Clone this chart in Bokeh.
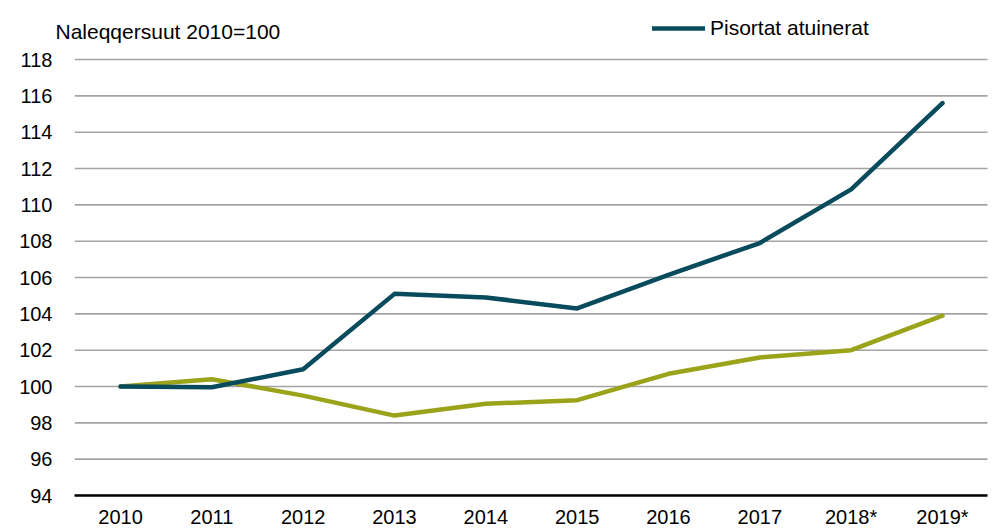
from bokeh.plotting import figure
from bokeh.models import (Range1d, FixedTicker, Legend, LegendItem,
                          Label, ColumnDataSource)
from bokeh.embed import file_html
from bokeh.resources import INLINE

# ---- data ----
years = ["2010", "2011", "2012", "2013", "2014", "2015", "2016", "2017", "2018*", "2019*"]
pisortat_atuinerat = [100.0, 99.96, 100.95, 105.1, 104.9, 104.3, 106.15, 107.9, 110.85, 115.6]
second_series = [100.0, 100.4, 99.5, 98.4, 99.05, 99.25, 100.7, 101.6, 102.0, 103.9]
y_ticks = [94, 96, 98, 100, 102, 104, 106, 108, 110, 112, 114, 116, 118]
legend_label = "Pisortat atuinerat"
title_text = "Naleqqersuut 2010=100"

TEAL = "#074b5d"
OLIVE = "#9ba31b"
GRID = "#a3a3a3"
FONT = "Liberation Sans"

pos = list(range(len(years)))          # category positions
src = ColumnDataSource(dict(x=pos, a=pisortat_atuinerat, b=second_series))

n = len(years)
p = figure(x_range=Range1d(-0.712, n - 0.507),
           y_range=Range1d(94, 121.25),
           width=992, height=530,
           output_backend="svg", toolbar_location=None,
           min_border_left=55, min_border_right=5,
           min_border_top=0, min_border_bottom=35)
p.outline_line_color = None
p.background_fill_color = "white"
p.border_fill_color = "white"
p.xgrid.visible = False
p.ygrid.visible = False

# horizontal gridlines across the category area
grid_src = ColumnDataSource(dict(y=y_ticks, x0=[-0.5] * len(y_ticks),
                                 x1=[n - 0.5] * len(y_ticks)))
p.segment(x0="x0", x1="x1", y0="y", y1="y", source=grid_src,
          line_color=GRID, line_width=1.6)

olive_r = p.line("x", "b", source=src, line_color=OLIVE, line_width=4.5,
                 line_join="round", line_cap="round")
teal_r = p.line("x", "a", source=src, line_color=TEAL, line_width=4.5,
                line_join="round", line_cap="round")

# y axis
p.yaxis.ticker = FixedTicker(ticks=y_ticks)
p.yaxis.axis_line_color = None
p.yaxis.major_tick_line_color = None
p.yaxis.minor_tick_line_color = None
p.yaxis.major_label_standoff = -3
p.yaxis.major_label_text_font = FONT
p.yaxis.major_label_text_font_size = "20px"
p.yaxis.major_label_text_color = "#000000"

# x axis
p.xaxis.ticker = FixedTicker(ticks=pos)
p.xaxis.major_label_overrides = {i: y for i, y in zip(pos, years)}
p.xaxis.bounds = (-0.5, n - 0.5)
p.xaxis.axis_line_color = "#000000"
p.xaxis.axis_line_width = 2.5
p.xaxis.major_tick_line_color = None
p.xaxis.minor_tick_line_color = None
p.xaxis.major_label_standoff = 4
p.xaxis.major_label_text_font = FONT
p.xaxis.major_label_text_font_size = "20px"
p.xaxis.major_label_text_color = "#000000"

# title-like label
p.add_layout(Label(x=0, y=464, x_units="screen", y_units="screen",
                   text=title_text, text_font=FONT, text_font_size="21px",
                   text_color="#000000", text_baseline="alphabetic"))

# legend
legend = Legend(items=[LegendItem(label=legend_label, renderers=[teal_r])],
                location=(597, 455), orientation="horizontal",
                glyph_width=53, glyph_height=20, label_height=20,
                label_standoff=5, padding=0, margin=0, spacing=0,
                border_line_color=None, background_fill_alpha=0,
                label_text_font=FONT, label_text_font_size="21px",
                label_text_color="#000000")
p.add_layout(legend, "center")

open("out.html", "w").write(file_html(p, INLINE))
